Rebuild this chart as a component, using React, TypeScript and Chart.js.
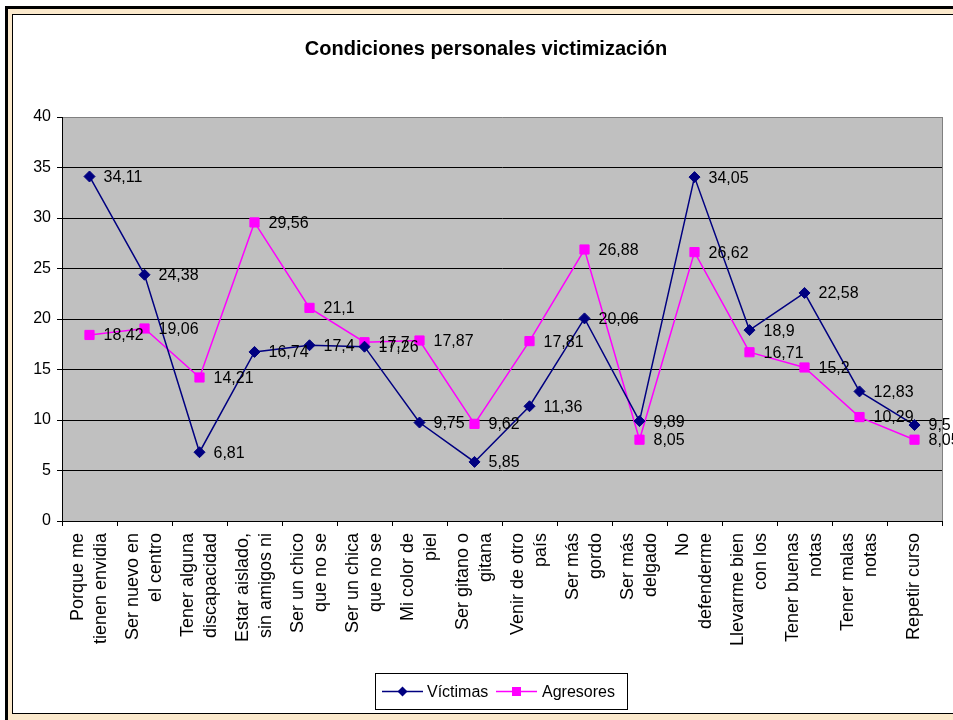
import React, { useEffect, useRef } from "react";
import { Chart, registerables } from "chart.js";

Chart.register(...registerables);

const TITLE = "Condiciones personales victimización";

const categories: string[][] = [
  ["Porque me", "tienen envidia"],
  ["Ser nuevo en", "el centro"],
  ["Tener alguna", "discapacidad"],
  ["Estar aislado,", "sin amigos ni"],
  ["Ser un chico", "que no se"],
  ["Ser un chica", "que no se"],
  ["Mi color de", "piel"],
  ["Ser gitano o", "gitana"],
  ["Venir de otro", "país"],
  ["Ser más", "gordo"],
  ["Ser más", "delgado"],
  ["No", "defenderme"],
  ["Llevarme bien", "con los"],
  ["Tener buenas", "notas"],
  ["Tener malas", "notas"],
  ["Repetir curso"],
];

const victimas: number[] = [
  34.11, 24.38, 6.81, 16.74, 17.4, 17.26, 9.75, 5.85, 11.36, 20.06, 9.89, 34.05,
  18.9, 22.58, 12.83, 9.5,
];

const agresores: number[] = [
  18.42, 19.06, 14.21, 29.56, 21.1, 17.7, 17.87, 9.62, 17.81, 26.88, 8.05,
  26.62, 16.71, 15.2, 10.29, 8.05,
];

const Y_MIN = 0;
const Y_MAX = 40;
const Y_STEP = 5;

const FONT = '"Liberation Sans", Arial, sans-serif';
const NAVY = "#000080";
const MAGENTA = "#FF00FF";

const fmt = (v: number) => String(v).replace(".", ",");

const plotPlugin = {
  id: "plotBg",
  beforeDraw(chart: any) {
    const { ctx, chartArea: a } = chart;
    ctx.save();
    ctx.fillStyle = "#C0C0C0";
    ctx.fillRect(a.left, a.top, a.right - a.left, a.bottom - a.top);
    ctx.strokeStyle = "#808080";
    ctx.lineWidth = 1;
    ctx.beginPath();
    ctx.moveTo(a.right + 0.5, a.top);
    ctx.lineTo(a.right + 0.5, a.bottom);
    ctx.stroke();
    ctx.restore();
  },
};

const labelsPlugin = {
  id: "valueLabels",
  afterDatasetsDraw(chart: any) {
    const { ctx } = chart;
    ctx.save();
    ctx.font = `16px ${FONT}`;
    ctx.fillStyle = "#000";
    ctx.textAlign = "left";
    ctx.textBaseline = "middle";
    chart.data.datasets.forEach((ds: any, di: number) => {
      const meta = chart.getDatasetMeta(di);
      meta.data.forEach((el: any, i: number) => {
        ctx.fillText(fmt(ds.data[i]), el.x + 14, el.y + 1);
      });
    });
    ctx.restore();
  },
};

const decorPlugin = {
  id: "decor",
  afterDraw(chart: any) {
    const { ctx } = chart;
    const xs = chart.scales.x;
    ctx.save();
    // title
    ctx.font = `bold 20px ${FONT}`;
    ctx.fillStyle = "#000";
    ctx.textAlign = "center";
    ctx.textBaseline = "middle";
    ctx.fillText(TITLE, 486, 49);

    // category labels (rotated, multi-line centred on the category)
    ctx.font = `18px ${FONT}`;
    ctx.textAlign = "right";
    ctx.textBaseline = "middle";
    const lh = 23;
    const yTop = chart.chartArea.bottom + 12;
    categories.forEach((lines, i) => {
      const cx = xs.getPixelForValue(i);
      const n = lines.length;
      lines.forEach((line, j) => {
        const x = cx + (j - (n - 1) / 2) * lh;
        ctx.save();
        ctx.translate(x, yTop);
        ctx.rotate(-Math.PI / 2);
        ctx.fillText(line, 0, 0);
        ctx.restore();
      });
    });

    // legend
    const bx = 375.5,
      by = 673.5,
      bw = 252,
      bh = 36;
    ctx.fillStyle = "#fff";
    ctx.fillRect(bx, by, bw, bh);
    ctx.strokeStyle = "#000";
    ctx.lineWidth = 1;
    ctx.strokeRect(bx, by, bw, bh);
    const cy = by + bh / 2;
    const items = [
      { x0: 382, x1: 423, tx: 427 },
      { x0: 496, x1: 537, tx: 542 },
    ];
    chart.data.datasets.forEach((ds: any, di: number) => {
      const it = items[di];
      ctx.strokeStyle = ds.borderColor;
      ctx.lineWidth = 1.5;
      ctx.beginPath();
      ctx.moveTo(it.x0, cy);
      ctx.lineTo(it.x1, cy);
      ctx.stroke();
      const mx = (it.x0 + it.x1) / 2;
      ctx.fillStyle = ds.borderColor;
      if (ds.pointStyle === "rectRot") {
        ctx.beginPath();
        ctx.moveTo(mx, cy - 5);
        ctx.lineTo(mx + 5, cy);
        ctx.lineTo(mx, cy + 5);
        ctx.lineTo(mx - 5, cy);
        ctx.closePath();
        ctx.fill();
      } else {
        ctx.fillRect(mx - 4.5, cy - 4.5, 9, 9);
      }
      ctx.fillStyle = "#000";
      ctx.font = `16px ${FONT}`;
      ctx.textAlign = "left";
      ctx.textBaseline = "middle";
      ctx.fillText(ds.label, it.tx, cy + 1);
    });
    ctx.restore();
  },
};

function LineChart() {
  const ref = useRef<HTMLCanvasElement | null>(null);
  useEffect(() => {
    if (!ref.current) return;
    const chart = new Chart(ref.current, {
      type: "line",
      data: {
        labels: categories.map((c) => c.join(" ")),
        datasets: [
          {
            label: "Víctimas",
            data: victimas,
            borderColor: NAVY,
            backgroundColor: NAVY,
            borderWidth: 1.5,
            pointStyle: "rectRot",
            pointRadius: 5.5,
            pointBorderWidth: 1,
            pointBackgroundColor: NAVY,
            pointBorderColor: NAVY,
            tension: 0,
          },
          {
            label: "Agresores",
            data: agresores,
            borderColor: MAGENTA,
            backgroundColor: MAGENTA,
            borderWidth: 1.5,
            pointStyle: "rect",
            pointRadius: 6.5,
            pointBorderWidth: 1,
            pointBackgroundColor: MAGENTA,
            pointBorderColor: MAGENTA,
            tension: 0,
          },
        ],
      },
      options: {
        animation: false,
        responsive: false,
        maintainAspectRatio: false,
        layout: { padding: { left: 12, top: 117, right: 11, bottom: 49 } },
        plugins: {
          legend: { display: false },
          title: { display: false },
          tooltip: { enabled: false },
        },
        scales: {
          x: {
            type: "category",
            offset: true,
            ticks: { display: false },
            grid: {
              display: true,
              offset: true,
              drawOnChartArea: false,
              drawTicks: true,
              tickLength: 5,
              color: "#000",
            },
            border: { display: true, color: "#000", width: 1 },
            afterFit: (s: any) => {
              s.height = 150;
            },
          },
          y: {
            min: Y_MIN,
            max: Y_MAX,
            ticks: {
              stepSize: Y_STEP,
              color: "#000",
              font: { family: FONT, size: 16 },
              padding: 6,
            },
            grid: {
              color: (c: any) => (c.tick && c.tick.value === Y_MAX ? "#808080" : "#000"),
              tickColor: "#000",
              tickLength: 5,
              lineWidth: 1,
            },
            border: { display: true, color: "#000", width: 1 },
            afterFit: (s: any) => {
              s.width = 50;
            },
          },
        },
      },
      plugins: [plotPlugin, labelsPlugin, decorPlugin],
    } as any);
    return () => chart.destroy();
  }, []);
  return (
    <canvas
      ref={ref}
      width={953}
      height={720}
      style={{ position: "absolute", left: 0, top: 0, width: 953, height: 720 }}
    />
  );
}

export default function App() {
  return (
    <div
      style={{
        position: "absolute",
        left: 0,
        top: 0,
        width: 953,
        height: 720,
        overflow: "hidden",
        background: "#fff",
      }}
    >
      <div
        style={{
          position: "absolute",
          left: 5,
          top: 6,
          width: 1000,
          height: 1000,
          border: "3px solid #000",
          background: "#FBE9CC",
          boxSizing: "border-box",
        }}
      />
      <div
        style={{
          position: "absolute",
          left: 12,
          top: 14,
          width: 1000,
          height: 700,
          border: "1px solid #000",
          background: "#fff",
          boxSizing: "border-box",
        }}
      />
      <LineChart />
    </div>
  );
}
